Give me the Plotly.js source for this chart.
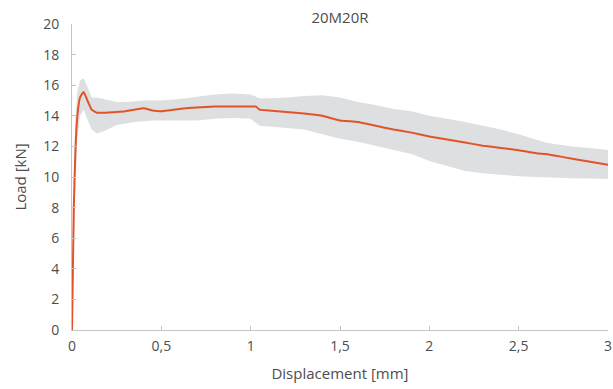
<!DOCTYPE html>
<html>
<head>
<meta charset="utf-8">
<script src="https://cdn.plot.ly/plotly-3.0.1.min.js"></script>
<style>html,body{margin:0;padding:0;background:#fff}#chart{width:613px;height:389px}</style>
</head>
<body>
<div id="chart"></div>
<script>
var displacement = [0, 0.01, 0.02, 0.03, 0.045, 0.065, 0.09, 0.11, 0.14, 0.18, 0.25, 0.3, 0.35, 0.4, 0.45, 0.5, 0.6, 0.7, 0.8, 0.9, 1.0, 1.03, 1.05, 1.1, 1.2, 1.3, 1.4, 1.5, 1.6, 1.7, 1.8, 1.9, 2.0, 2.1, 2.2, 2.3, 2.4, 2.5, 2.6, 2.65, 2.7, 2.8, 2.9, 3.0];
var loadMean = [0, 8, 12, 14, 15.2, 15.55, 14.9, 14.4, 14.2, 14.2, 14.25, 14.3, 14.4, 14.5, 14.35, 14.3, 14.45, 14.55, 14.6, 14.6, 14.6, 14.6, 14.4, 14.35, 14.25, 14.15, 14.0, 13.7, 13.6, 13.35, 13.1, 12.9, 12.65, 12.45, 12.25, 12.05, 11.9, 11.75, 11.55, 11.5, 11.4, 11.2, 11.0, 10.8];
var loadUpper = [0, 10, 14, 15.6, 16.3, 16.45, 15.8, 15.2, 15.2, 15.1, 14.9, 14.9, 14.95, 15.0, 15.0, 15.0, 15.1, 15.25, 15.4, 15.45, 15.4, 15.25, 15.15, 15.15, 15.2, 15.3, 15.35, 15.2, 14.9, 14.7, 14.45, 14.3, 14.0, 13.8, 13.6, 13.35, 13.1, 12.8, 12.45, 12.25, 12.15, 12.0, 11.9, 11.76];
var loadLower = [0, 6, 10, 12.5, 14.0, 14.4, 13.6, 13.1, 12.85, 13.0, 13.4, 13.5, 13.6, 13.65, 13.7, 13.7, 13.7, 13.7, 13.8, 13.85, 13.8, 13.5, 13.35, 13.3, 13.2, 13.1, 12.8, 12.5, 12.3, 12.05, 11.8, 11.5, 11.05, 10.7, 10.4, 10.25, 10.15, 10.05, 10.0, 9.97, 9.95, 9.92, 9.9, 9.87];
var xTicks = [0, 0.5, 1, 1.5, 2, 2.5, 3];
var yTicks = [0, 2, 4, 6, 8, 10, 12, 14, 16, 18, 20];
var chartTitle = '20M20R';

var font = 'Open Sans, Noto Sans, sans-serif';
var txt = '#4d4d4d';
var traces = [
  {x: displacement, y: loadLower, mode: 'lines', line: {width: 0, color: 'rgba(0,0,0,0)'}, hoverinfo: 'skip', showlegend: false},
  {x: displacement, y: loadUpper, mode: 'lines', fill: 'tonexty', fillcolor: '#dedfe0', line: {width: 0, color: 'rgba(0,0,0,0)'}, hoverinfo: 'skip', showlegend: false},
  {x: displacement, y: loadMean, mode: 'lines', line: {width: 2, color: '#e2532b', shape: 'spline', smoothing: 0.4}, showlegend: false, cliponaxis: false}
];
var layout = {
  width: 613, height: 389,
  margin: {l: 72, r: 5, t: 24, b: 59},
  paper_bgcolor: '#fff', plot_bgcolor: '#fff',
  separators: ',.',
  font: {family: font, color: txt, size: 14},
  title: {text: chartTitle, x: 0.5, xref: 'paper', y: 0.955, yref: 'container', yanchor: 'middle', font: {family: font, size: 15, color: txt}},
  xaxis: {
    range: [0, 3], tickvals: xTicks, ticks: 'inside', ticklen: 4, tickcolor: '#c4c4c4',
    showline: true, linecolor: '#c4c4c4', linewidth: 1, showgrid: false, zeroline: false,
    ticklabelstandoff: 3,
    tickfont: {family: font, size: 14, color: txt},
    title: {text: 'Displacement [mm]', font: {family: font, size: 15, color: txt}, standoff: 14}
  },
  yaxis: {
    range: [0, 20], tickvals: yTicks, ticks: 'inside', ticklen: 4, tickcolor: '#c4c4c4',
    showline: true, linecolor: '#c4c4c4', linewidth: 1, showgrid: false, zeroline: false,
    ticklabelstandoff: 9,
    tickfont: {family: font, size: 14, color: txt},
    title: {text: 'Load [kN]', font: {family: font, size: 15, color: txt}, standoff: 12}
  }
};
Plotly.newPlot('chart', traces, layout, {displayModeBar: false, staticPlot: true});
</script>
</body>
</html>
